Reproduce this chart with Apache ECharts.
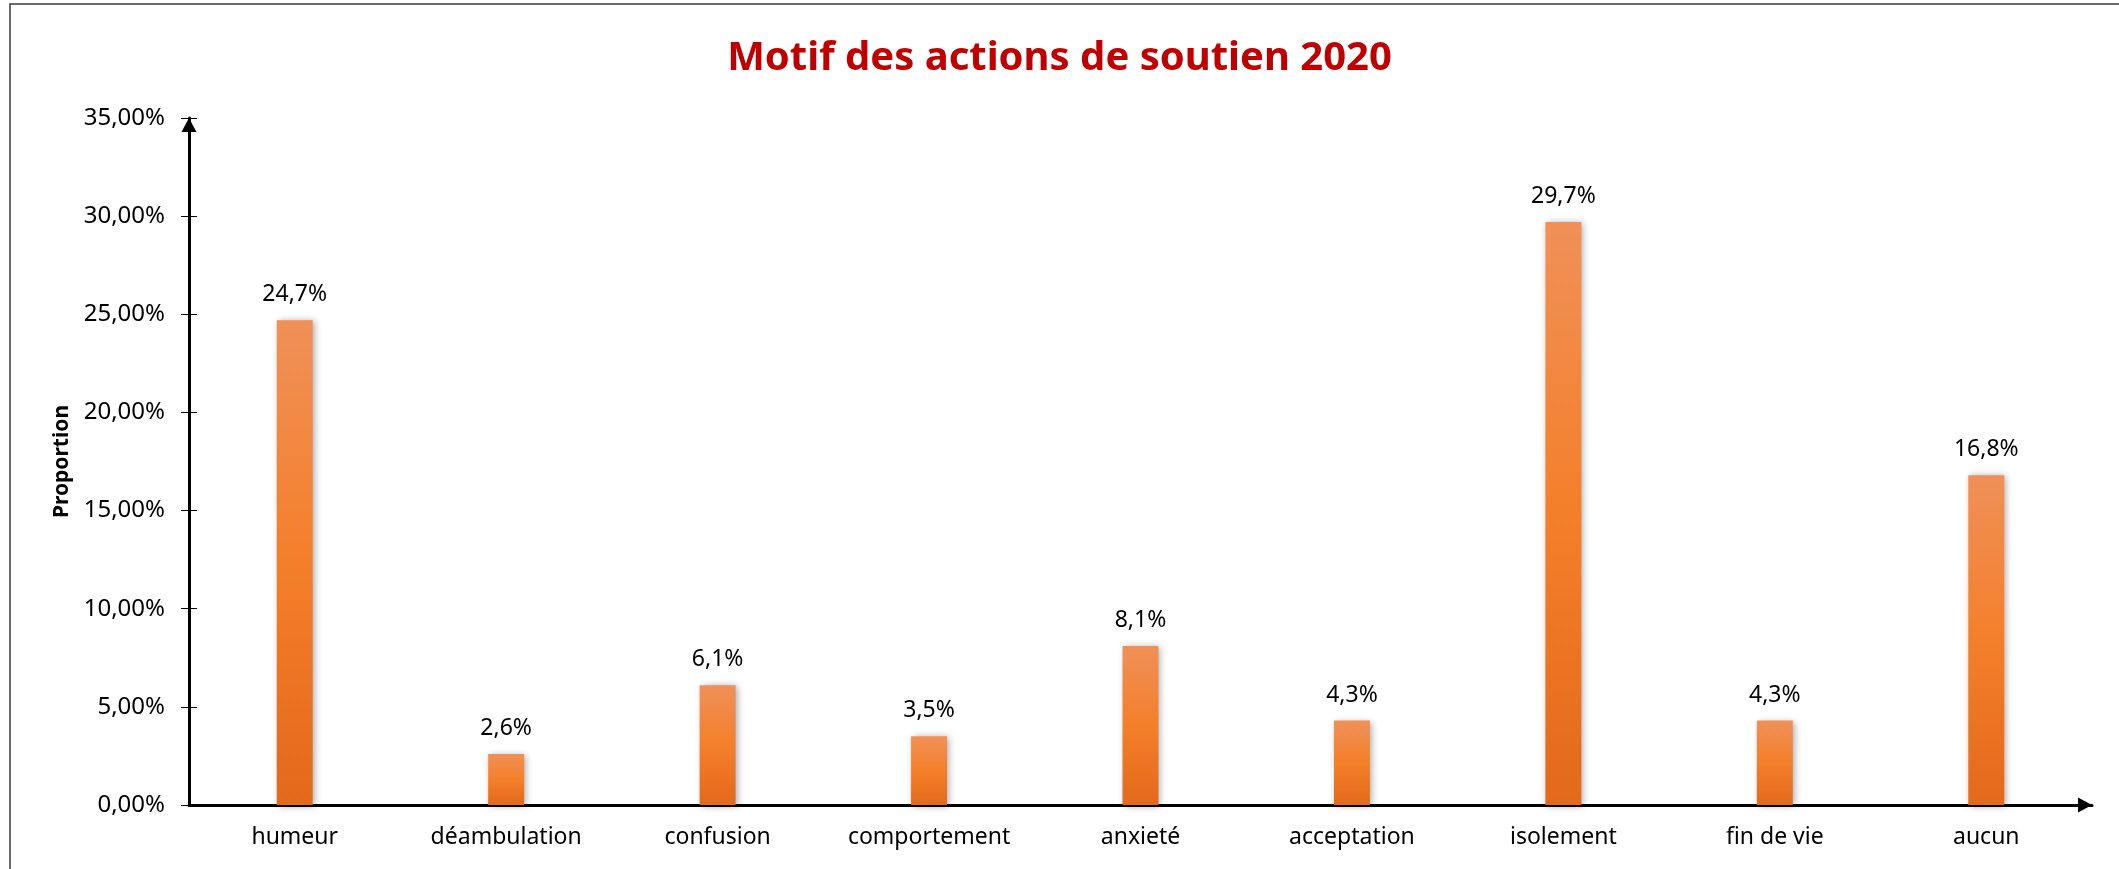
<!DOCTYPE html>
<html>
<head>
<meta charset="utf-8">
<script src="https://cdn.jsdelivr.net/npm/echarts@6/dist/echarts.min.js"></script>
<style>
  html, body { margin: 0; padding: 0; background: #fff; }
  #chart { width: 2119px; height: 869px; }
</style>
</head>
<body>
<div id="chart"></div>
<script>
var categories = ['humeur', 'déambulation', 'confusion', 'comportement', 'anxieté', 'acceptation', 'isolement', 'fin de vie', 'aucun'];
var proportions = [0.247, 0.026, 0.061, 0.035, 0.081, 0.043, 0.297, 0.043, 0.168];
var yTicks = [0, 0.05, 0.10, 0.15, 0.20, 0.25, 0.30, 0.35];

(function () {
    var myChart = echarts.init(document.getElementById('chart'));
    var font = 'Noto Sans';

    function pct(v, d) {
        return (v * 100).toFixed(d).replace('.', ',') + '%';
    }

    var option = {
        backgroundColor: '#fff',
        animation: false,
        textStyle: { fontFamily: font },
        title: {
            text: 'Motif des actions de soutien 2020',
            left: 'center',
            top: 34,
            textStyle: {
                color: '#C00000',
                fontSize: 40,
                fontWeight: 'bold',
                fontFamily: font
            }
        },
        graphic: [{
            type: 'rect',
            shape: { x: 10, y: 4, width: 2300, height: 1000 },
            style: { fill: 'none', stroke: '#3a3a3a', lineWidth: 1.5 },
            silent: true
        }],
        grid: { left: 189, right: 27, top: 118, bottom: 64 },
        xAxis: {
            type: 'category',
            data: categories,
            axisLine: {
                lineStyle: { color: '#000', width: 3 },
                symbol: ['none', 'triangle'],
                symbolSize: [15, 14],
                symbolOffset: [0, -7]
            },
            axisTick: { alignWithLabel: true, length: 7, lineStyle: { color: '#000', width: 1 } },
            axisLabel: { color: '#000', fontSize: 23, margin: 21, fontFamily: font },
            splitLine: { show: false }
        },
        yAxis: [{
            type: 'value',
            min: yTicks[0],
            max: yTicks[yTicks.length - 1],
            interval: 0.05,
            name: 'Proportion',
            nameLocation: 'middle',
            nameRotate: 90,
            nameGap: 116,
            nameTextStyle: { color: '#000', fontSize: 21, fontWeight: 'bold', fontFamily: font },
            axisLine: {
                show: true,
                lineStyle: { color: '#000', width: 3 },
                symbol: ['none', 'triangle'],
                symbolSize: [15, 14],
                symbolOffset: [0, -7]
            },
            axisTick: { show: true, length: 8, lineStyle: { color: '#000', width: 1 } },
            axisLabel: {
                color: '#000',
                fontSize: 24,
                margin: 24,
                fontFamily: font,
                formatter: function (v) { return pct(v, 2); }
            },
            splitLine: { show: false }
        }, {
            type: 'value',
            position: 'left',
            offset: 0,
            min: yTicks[0],
            max: yTicks[yTicks.length - 1],
            interval: 0.05,
            axisLine: { show: false },
            axisTick: { show: true, inside: true, length: 8, lineStyle: { color: '#000', width: 1 } },
            axisLabel: { show: false },
            splitLine: { show: false }
        }],
        series: [{
            type: 'bar',
            data: proportions,
            barWidth: '17%',
            itemStyle: {
                color: new echarts.graphic.LinearGradient(0, 0, 0, 1, [
                    { offset: 0, color: '#F09058' },
                    { offset: 0.5, color: '#F47F2A' },
                    { offset: 1, color: '#E3691B' }
                ]),
                shadowColor: 'rgba(0, 0, 0, 0.35)',
                shadowBlur: 7,
                shadowOffsetX: 2,
                shadowOffsetY: 1
            },
            label: {
                show: true,
                position: 'top',
                distance: 14,
                color: '#000',
                fontSize: 23,
                fontFamily: font,
                formatter: function (p) { return pct(p.value, 1); }
            }
        }]
    };

    myChart.setOption(option);
    window.addEventListener('resize', function () {
        myChart.resize();
    });
})();
</script>
</body>
</html>
